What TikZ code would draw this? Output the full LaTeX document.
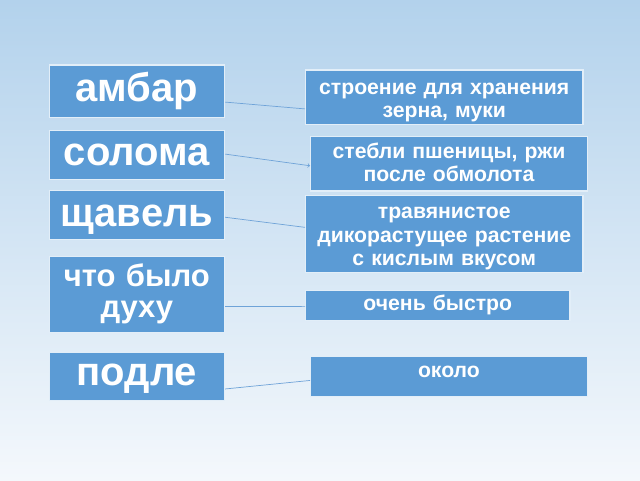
\documentclass[tikz,border=0pt]{standalone}
\usepackage{fontspec}
\setmainfont{Liberation Sans}
\definecolor{bgtop}{HTML}{B3D2EC}
\definecolor{bgmid}{HTML}{C6DCF0}
\definecolor{bgbot}{HTML}{F4F8FC}
\definecolor{boxblue}{HTML}{5B9BD5}
\definecolor{boxline}{HTML}{E2EEF8}
\definecolor{lineblue}{HTML}{6FA3D8}
\begin{document}
\begin{tikzpicture}[x=1pt,y=-1pt,
  word/.style={draw=boxline, line width=1.2pt, fill=boxblue, text=white, anchor=north west,
    inner sep=0pt, align=center, text width=175.5pt, font={\bfseries\fontsize{40}{40}\selectfont}},
  meaning/.style={draw=boxline, line width=1.2pt, fill=boxblue, text=white, anchor=north west,
    inner sep=0pt, align=center, font={\bfseries\fontsize{21.2}{23.5}\selectfont}},
  link/.style={draw=lineblue, line width=0.7pt}]
\useasboundingbox (0,0) rectangle (640,480);
\shade[top color=bgtop, middle color=bgmid, bottom color=bgbot] (0,0) rectangle (640,480);
% words
\node[word, text height=36.4pt, text depth=16pt] (ambar) at (48.5,64.3) {амбар};
\node[word, text height=35pt, text depth=14pt] (soloma) at (48.5,130) {солома};
\node[word, text height=35.7pt, text depth=13pt] (shchavel) at (48.5,190) {щавель};
\node[word, text height=29.7pt, text depth=46pt, font={\bfseries\fontsize{31}{31}\selectfont}] (dukhu) at (48.5,256) {что было\\духу};
\node[word, text height=33.3pt, text depth=15pt] (podle) at (48.5,351.7) {подле};
% meanings
\node[meaning, text width=277.3pt, text height=24.2pt, text depth=30.2pt] (stroenie) at (305,69.3) {строение для хранения\\зерна, муки};
\node[meaning, text width=276.7pt, text height=21.5pt, text depth=32.8pt] (stebli) at (310,136) {стебли пшеницы, ржи\\после обмолота};
\node[meaning, text width=277.3pt, text height=23pt, text depth=53.7pt] (trava) at (305,195) {травянистое\\дикорастущее растение\\с кислым вкусом};
\node[meaning, text width=264.3pt, text height=20pt, text depth=10pt] (bystro) at (305,290) {очень быстро};
\node[meaning, text width=276.7pt, text height=20.7pt, text depth=19pt] (okolo) at (310,356) {около};
% links
\draw[link] ([yshift=-11pt]ambar.east) -- ([yshift=-11.8pt]stroenie.west);
\draw[link,->] ([yshift=1pt]soloma.east) -- ([yshift=-2pt]stebli.west);
\draw[link] ([yshift=-2.3pt]shchavel.east) -- ([yshift=6.6pt]trava.west);
\draw[link] ([yshift=-12pt]dukhu.east) -- ([yshift=-1pt]bystro.west);
\draw[link] ([yshift=-12.5pt]podle.east) -- ([yshift=-4pt]okolo.west);
\end{tikzpicture}
\end{document}
